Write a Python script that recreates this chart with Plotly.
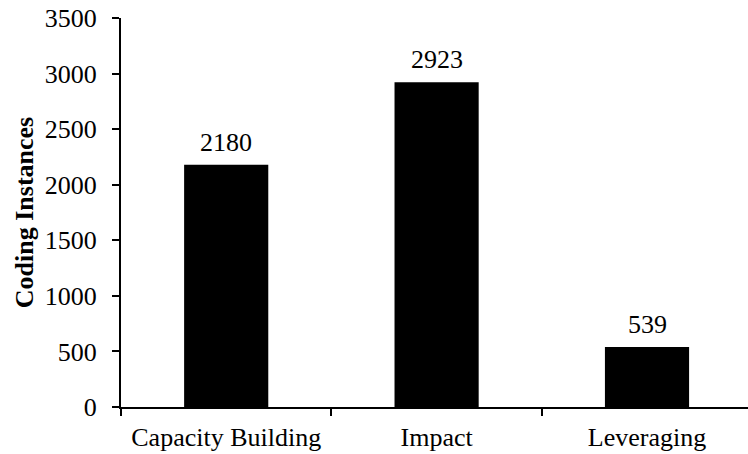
import plotly.graph_objects as go

categories = ["Capacity Building", "Impact", "Leveraging"]
values = [2180, 2923, 539]
y_ticks = [0, 500, 1000, 1500, 2000, 2500, 3000, 3500]

FONT = "Liberation Serif"

fig = go.Figure(
    go.Bar(
        x=categories,
        y=values,
        width=0.4,
        marker=dict(color="black", line=dict(width=0)),
        showlegend=False,
    )
)

# value labels above each bar
for c, v in zip(categories, values):
    fig.add_annotation(
        x=c, y=v, text=str(v), showarrow=False,
        xanchor="center", yanchor="bottom", yshift=6,
        font=dict(family=FONT, size=26, color="black"),
    )

fig.update_layout(
    width=748, height=454,
    margin=dict(l=121, r=0, t=18, b=47),
    paper_bgcolor="white", plot_bgcolor="white",
    font=dict(family=FONT, size=26, color="black"),
    bargap=0.6,
)

fig.update_xaxes(
    type="category",
    range=[-0.5, 2.48],
    tickson="boundaries",
    ticks="outside", ticklen=7, tickwidth=2, tickcolor="black",
    ticklabelstandoff=6,
    showline=True, linewidth=2, linecolor="black",
    showgrid=False, zeroline=False,
    tickfont=dict(family=FONT, size=26, color="black"),
)

fig.update_yaxes(
    range=[0, 3500],
    tickvals=y_ticks,
    ticks="outside", ticklen=7, tickwidth=2, tickcolor="black",
    ticklabelstandoff=10,
    showline=True, linewidth=2, linecolor="black",
    showgrid=False, zeroline=False,
    tickfont=dict(family=FONT, size=26, color="black"),
    title=dict(text="<b>Coding Instances</b>", standoff=4,
               font=dict(family=FONT, size=26, color="black")),
)

fig.write_html("out.html")
